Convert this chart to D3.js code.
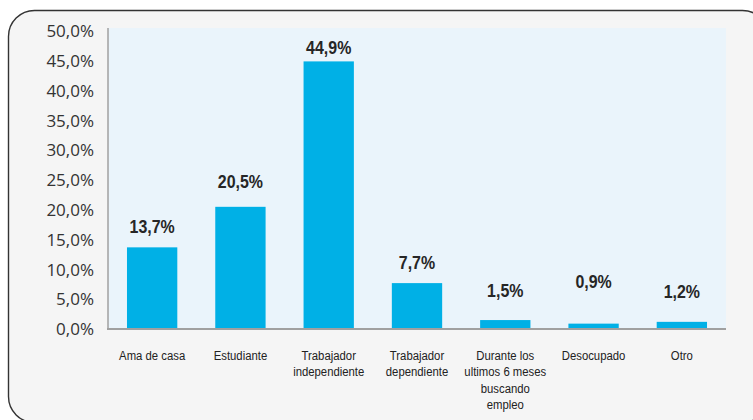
<!DOCTYPE html>
<html>
<head>
<meta charset="utf-8">
<script src="https://cdn.jsdelivr.net/npm/d3@7"></script>
<style>
  body { margin: 0; background: #fff; }
  svg { display: block; }
</style>
</head>
<body>
<svg id="chart"></svg>
<script>
// chart data
const categories = [
  ["Ama de casa"],
  ["Estudiante"],
  ["Trabajador", "independiente"],
  ["Trabajador", "dependiente"],
  ["Durante los", "ultimos 6 meses", "buscando", "empleo"],
  ["Desocupado"],
  ["Otro"]
];
const values = [13.7, 20.5, 44.9, 7.7, 1.5, 0.9, 1.2];
const yTicks = [0, 5, 10, 15, 20, 25, 30, 35, 40, 45, 50];

// the value labels don't sit at one fixed distance above the bars
const labelLift = [14, 19, 7, 14, 23, 36, 24];

let width = 753;
let height = 420;
let margin = { top: 28, right: 27, bottom: 91, left: 108 };
let narrow = 0.84; // no condensed font installed, squeeze it instead

let svg = d3.select("#chart")
  .attr("width", width)
  .attr("height", height);

// outer rounded frame
svg.append("rect")
  .attr("x", 8.5)
  .attr("y", 10.5)
  .attr("width", 760)
  .attr("height", 412)
  .attr("rx", 26)
  .attr("fill", "#f5f5f5")
  .attr("stroke", "#333")
  .attr("stroke-width", 1.4);

let x = d3.scaleBand()
  .domain(d3.range(values.length))
  .range([margin.left, width - margin.right])
  .paddingInner(0.43)
  .paddingOuter(0.215);

let y = d3.scaleLinear()
  .domain([0, 50])
  .range([329, 31]);

// plot area
svg.append("rect")
  .attr("x", margin.left)
  .attr("y", margin.top)
  .attr("width", width - margin.right - margin.left)
  .attr("height", y(0) - margin.top)
  .attr("fill", "#eaf4fb");

svg.append("g")
  .selectAll("rect")
  .data(values)
  .join("rect")
    .attr("x", (d, i) => x(i))
    .attr("y", d => y(d))
    .attr("width", x.bandwidth())
    .attr("height", d => y(0) - y(d))
    .attr("fill", "#00b0e6");

// axes lines
svg.append("line")
  .attr("x1", margin.left).attr("x2", margin.left)
  .attr("y1", margin.top).attr("y2", y(0))
  .attr("stroke", "#a0a0a0").attr("stroke-width", 1.5);

svg.append("line")
  .attr("x1", margin.left - 1).attr("x2", width - margin.right)
  .attr("y1", y(0)).attr("y2", y(0))
  .attr("stroke", "#a0a0a0").attr("stroke-width", 2);

// y tick labels
let fmt = d => d.toFixed(1).replace(".", ",") + "%";

svg.append("g")
  .selectAll("text")
  .data(yTicks)
  .join("text")
    .attr("x", 94)
    .attr("y", d => y(d))
    .attr("dy", "0.36em")
    .attr("text-anchor", "end")
    .attr("font-family", "'Open Sans', 'Noto Sans', sans-serif")
    .attr("font-size", 17)
    .attr("fill", "#333")
    .text(fmt);

// value labels
svg.append("g")
  .selectAll("text")
  .data(values)
  .join("text")
    .attr("transform", (d, i) =>
      `translate(${x(i) + x.bandwidth() / 2},${y(d) - labelLift[i]}) scale(${narrow},1)`)
    .attr("text-anchor", "middle")
    .attr("font-family", "'Liberation Sans', Arial, sans-serif")
    .attr("font-weight", "bold")
    .attr("font-size", 19)
    .attr("fill", "#262626")
    .text(fmt);

// category labels
let catG = svg.append("g")
  .selectAll("text")
  .data(categories)
  .join("text")
    .attr("transform", (d, i) =>
      `translate(${x(i) + x.bandwidth() / 2},360) scale(${narrow},1)`)
    .attr("text-anchor", "middle")
    .attr("font-family", "'Liberation Sans', Arial, sans-serif")
    .attr("font-size", 13.5)
    .attr("fill", "#222");

catG.selectAll("tspan")
  .data(d => d)
  .join("tspan")
    .attr("x", 0)
    .attr("dy", (d, i) => i === 0 ? 0 : 16.4)
    .text(d => d);
</script>
</body>
</html>
